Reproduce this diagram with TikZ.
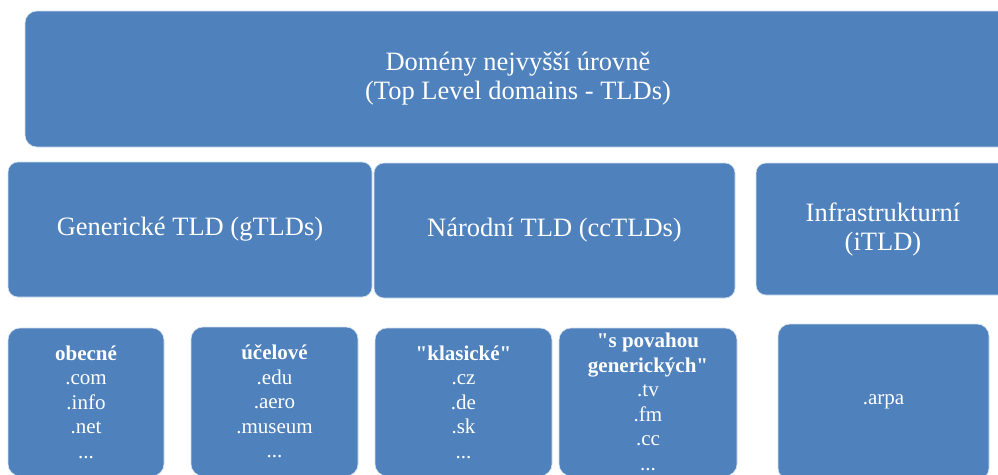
\documentclass[tikz,border=0pt]{standalone}
\usepackage{fontspec}
\setmainfont{Liberation Serif}[Ligatures=TeXOff]
\usetikzlibrary{positioning}
\definecolor{tldblue}{HTML}{4F81BD}

\begin{document}
\begin{tikzpicture}[
    x=1pt, y=-1pt,
    tld/.style={draw=white!75!tldblue, line width=0.6pt, fill=tldblue, text=white,
        rounded corners=#1, align=center, inner sep=0pt},
    tld/.default=11pt,
    big/.style={font=\fontsize{26.5}{29}\selectfont},
    small/.style={font=\fontsize{21}{24.5}\selectfont}
]
\useasboundingbox (0,0) rectangle (998,474);
\clip (0,0) rectangle (998,474);

% Top level
\node[tld=12pt, big, minimum width=986pt, minimum height=136pt] (top) at (518,79)
    {Domény nejvyšší úrovně\\(Top Level domains - TLDs)};

% Second row
\node[tld=10pt, big, minimum width=364pt, minimum height=135pt] (gtld) at (190,229.5)
    {Generické TLD (gTLDs)};
\node[tld=10pt, big, minimum width=361pt, minimum height=135pt] (cctld) at (554.5,230.5)
    {Národní TLD (ccTLDs)};
\node[tld=10pt, big, minimum width=254pt, minimum height=132pt] (itld) at (883,229)
    {Infrastrukturní\\(iTLD)};

% Third row
\node[tld=12pt, small, minimum width=156pt, minimum height=148pt] (obecne) at (86,402)
    {\textbf{obecné}\\.com\\.info\\.net\\...};
\node[tld=12pt, small, minimum width=167pt, minimum height=149pt] (ucelove) at (274.5,401.5)
    {\textbf{účelové}\\.edu\\.aero\\.museum\\...};
\node[tld=12pt, small, minimum width=177pt, minimum height=148pt] (klasicke) at (463.5,402)
    {\textbf{"klasické"}\\.cz\\.de\\.sk\\...};
\node[tld=12pt, small, minimum width=178pt, minimum height=148pt] (povahou) at (648,402)
    {\textbf{"s povahou}\\\textbf{generických"}\\.tv\\.fm\\.cc\\...};
\node[tld=12pt, small, minimum width=211pt, minimum height=156pt] (arpa) at (883.5,402)
    {.arpa};

\end{tikzpicture}
\end{document}
